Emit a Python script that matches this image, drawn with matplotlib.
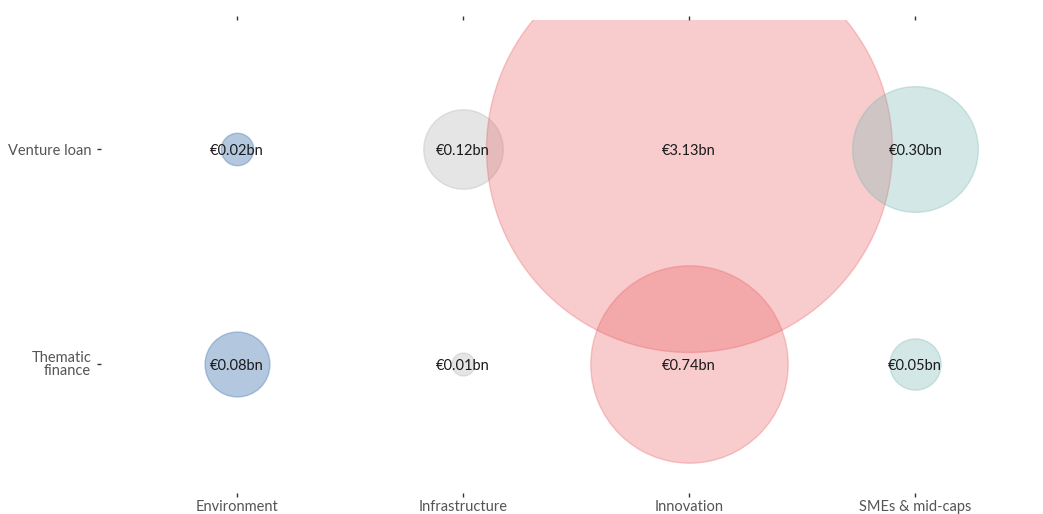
import numpy as np
import matplotlib.pyplot as plt

sectors = ['Environment', 'Infrastructure', 'Innovation', 'SMEs & mid-caps']
products = ['Thematic\nfinance', 'Venture loan']
# values in EUR bn, rows follow products order
thematic = [0.08, 0.01, 0.74, 0.05]
venture = [0.02, 0.12, 3.13, 0.30]

fill_colors = ['#6890c0', '#b5b5b5', '#e8585c', '#76b7b2']
fill_alpha = [0.5, 0.35, 0.3, 0.32]

plt.rcParams['font.family'] = ['Lato', 'DejaVu Sans']

fig = plt.figure(figsize=(10.43, 5.14), dpi=100)
ax = fig.add_axes([101 / 1043, 21 / 514, 950 / 1043, 473 / 514])

size_scale = 27300  # points^2 per EUR bn

for row, vals in enumerate([thematic, venture]):
    for col, v in enumerate(vals):
        ax.scatter(col, row, s=v * size_scale, color=fill_colors[col],
                   alpha=fill_alpha[col], edgecolors=fill_colors[col],
                   linewidths=1, zorder=2)
        ax.text(col, row, '€%.2fbn' % v, ha='center', va='center_baseline',
                fontsize=10.5, color='#1a1a1a', zorder=5)

ax.set_xlim(-0.6, 3.6)
ax.set_ylim(-0.6, 1.6)
ax.set_xticks(range(len(sectors)))
ax.set_xticklabels(sectors)
ax.set_yticks(range(len(products)))
ax.set_yticklabels(products, linespacing=0.85)
ax.tick_params(axis='both', length=3, width=1, color='#333333',
               labelsize=10.5, labelcolor='#555555')
ax.tick_params(axis='x', top=True, pad=2)
ax.tick_params(axis='y', pad=4)
for sp in ax.spines.values():
    sp.set_visible(False)

fig.savefig('out.png', dpi=100)
